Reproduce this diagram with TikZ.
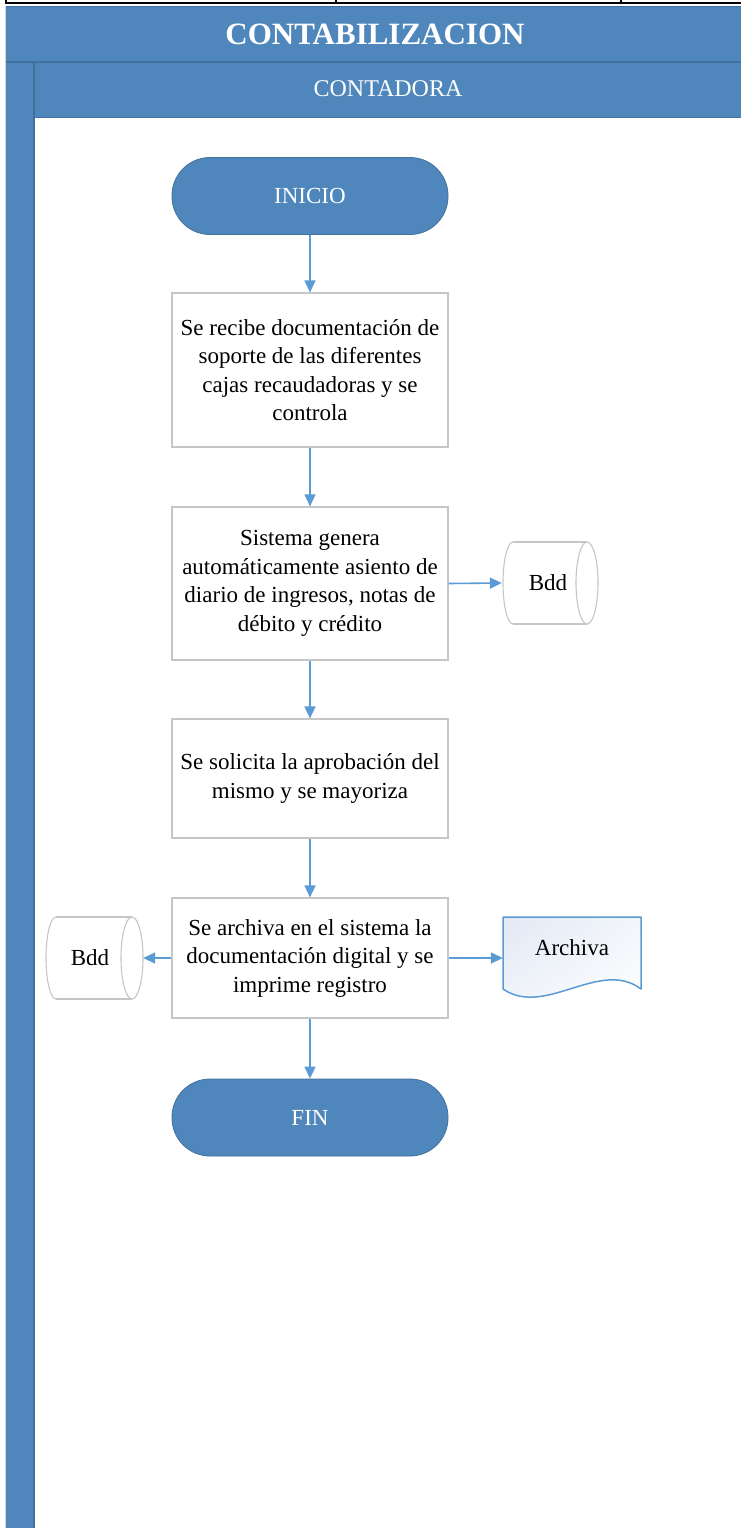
\documentclass[tikz,border=0pt]{standalone}
\usepackage{fontspec}
\setmainfont{Liberation Serif}
\usetikzlibrary{arrows.meta,shadings}

\definecolor{laneblue}{HTML}{4F87BC}
\definecolor{laneedge}{HTML}{41719C}
\definecolor{flowblue}{HTML}{5B9BD5}
\definecolor{boxedge}{HTML}{C6C6C6}
\definecolor{docfill}{HTML}{E2E9F5}

\begin{document}
\begin{tikzpicture}[x=1pt,y=-1pt,
  terminal/.style={draw=laneedge, line width=0.8pt, fill=laneblue,
    rounded corners=38pt, minimum width=276pt, minimum height=77pt,
    text=white, font=\fontsize{23}{28}\selectfont},
  process/.style={draw=boxedge, line width=1.2pt, fill=white,
    inner sep=3pt, minimum width=276pt, align=center,
    font=\fontsize{23}{28.5}\selectfont},
  storelabel/.style={inner sep=0pt, font=\fontsize{23}{28}\selectfont},
  storeedge/.style={draw=boxedge, line width=1.1pt},
  flow/.style={draw=flowblue, line width=1.6pt,
    -{Triangle[length=12pt,width=11pt]}},
]
\useasboundingbox (0,0) rectangle (741,1528);

% table rule along the top
\draw[line width=2.6pt] (5,3) -- (741,3);
\foreach \tx in {6,336,621} \draw[line width=1.2pt] (\tx,0) -- (\tx,3);

% pool and lane
\draw[black!15, line width=1pt] (5,6) -- (5,1528);
\fill[laneblue] (6,6) rectangle (741,1528);
\fill[white] (35,118) rectangle (741,1528);
\draw[laneedge, line width=1.5pt] (6,6.5) -- (741,6.5);
\draw[laneedge, line width=1.5pt] (6,62) -- (741,62);
\draw[laneedge, line width=1.5pt] (34,62) -- (34,1528);
\draw[laneedge, line width=1.5pt] (34,117.5) -- (741,117.5);
\node[text=white, font=\fontsize{31}{34}\bfseries\selectfont] (pool) at (375,34) {CONTABILIZACION};
\node[text=white, font=\fontsize{24}{28}\selectfont] (lane) at (388,88.5) {CONTADORA};

% main flow
\node[terminal] (start) at (310,196) {INICIO};
\node[process, minimum height=154pt] (recibe) at (310,370)
  {Se recibe documentación de\\ soporte de las diferentes\\ cajas recaudadoras y se\\ controla};
\node[process, minimum height=153pt] (genera) at (310,583.5)
  {Sistema genera\\ automáticamente asiento de\\ diario de ingresos, notas de\\ débito y crédito};
\node[process, minimum height=119pt] (aprueba) at (310,778.5)
  {Se solicita la aprobación del\\ mismo y se mayoriza};
\node[process, minimum height=120pt] (archiva) at (310,958)
  {Se archiva en el sistema la\\ documentación digital y se\\ imprime registro};
\node[terminal] (stop) at (310,1117.5) {FIN};

% database on the right of the journal step
\draw[storeedge] (513,542) -- (587,542) (513,624) -- (587,624);
\draw[storeedge] (513,542) arc[start angle=270, end angle=90, x radius=10, y radius=41];
\draw[storeedge] (587,583) ellipse[x radius=11, y radius=41];
\node[storelabel, minimum width=92pt, minimum height=82pt] (bdda) at (548,583) {Bdd};

% database on the left of the filing step
\draw[storeedge] (56,917) -- (132,917) (56,999) -- (132,999);
\draw[storeedge] (56,917) arc[start angle=270, end angle=90, x radius=10, y radius=41];
\draw[storeedge] (132,958) ellipse[x radius=11, y radius=41];
\node[storelabel, minimum width=106pt, minimum height=82pt] (bddb) at (90,958) {Bdd};

% printed document
\shade[upper left=docfill, upper right=docfill!45!white,
       lower left=docfill!45!white, lower right=white]
  (503,917) -- (641,917) -- (641,989)
  .. controls (600,958) and (545,1018) .. (503,989) -- cycle;
\draw[flowblue, line width=1.5pt, line join=round]
  (503,917) -- (641,917) -- (641,989)
  .. controls (600,958) and (545,1018) .. (503,989) -- cycle;
\node[storelabel, minimum width=138pt, minimum height=60pt] (doc) at (572,948) {Archiva};

% connectors
\draw[flow] (start) -- (recibe);
\draw[flow] (recibe) -- (genera);
\draw[flow] (genera) -- (aprueba);
\draw[flow] (aprueba) -- (archiva);
\draw[flow] (archiva) -- (stop);
\draw[flow] (genera.east) -- (bdda.west);
\draw[flow] (archiva.west) -- (bddb.east);
\draw[flow] (archiva.east) -- (archiva.east -| doc.west);
\end{tikzpicture}
\end{document}
